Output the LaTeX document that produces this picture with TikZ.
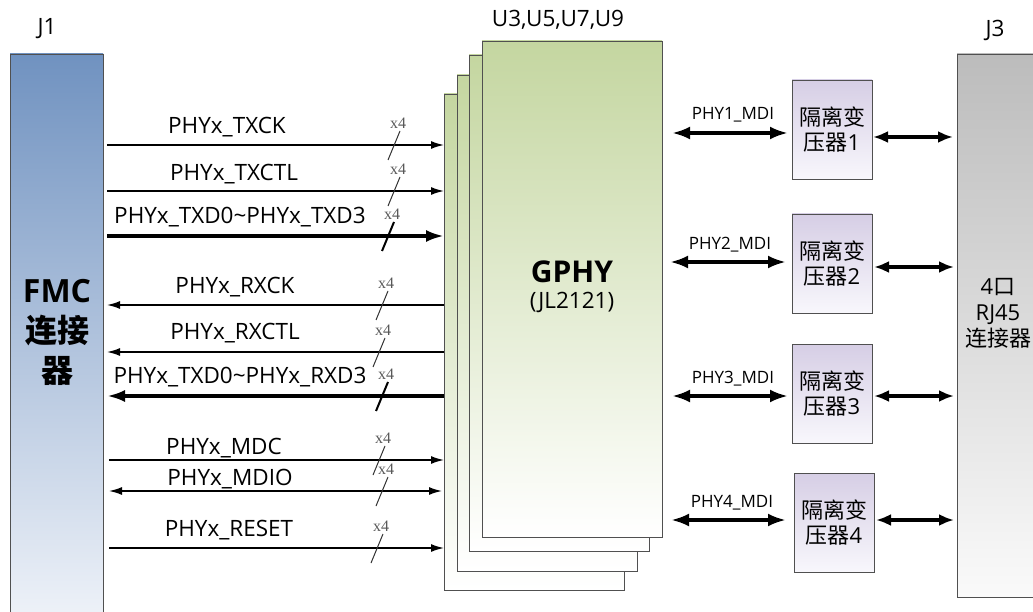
\documentclass[tikz,border=0pt]{standalone}
\usepackage{fontspec}
\setmainfont{Open Sans}
\newfontfamily\cjk{Noto Sans CJK SC}
\newfontfamily\cjkb{Noto Sans CJK SC Bold}
\newfontfamily\tms{Liberation Serif}
\usetikzlibrary{arrows.meta}
\definecolor{j1top}{RGB}{112,146,192}
\definecolor{j1bot}{RGB}{246,248,252}
\definecolor{phyg}{RGB}{196,214,160}
\definecolor{xftop}{RGB}{214,206,229}
\definecolor{xfbot}{RGB}{248,247,252}
\definecolor{j3top}{RGB}{188,188,188}
\definecolor{j3bot}{RGB}{250,250,250}
\definecolor{edge}{RGB}{80,80,80}
\tikzset{
  every node/.style={inner sep=0pt, outer sep=0pt},
  jb/.style={draw=edge, line width=0.9pt, anchor=north west},
  phy/.style={draw=edge, line width=0.9pt, anchor=north west, top color=phyg, bottom color=white, minimum width=180pt, minimum height=496pt},
  xf/.style={draw=edge, line width=0.9pt, anchor=north west, top color=xftop, bottom color=xfbot, minimum width=80pt, minimum height=99pt, align=center, font=\fontsize{22}{25}\selectfont},
  lbl/.style={font=\fontsize{22.5}{22.5}\selectfont},
  mdil/.style={font=\fontsize{17}{17}\selectfont},
  xfour/.style={font=\tms\fontsize{16}{16}\selectfont, text=black!65},
  sig/.style={line width=1.6pt, -{Latex[length=13pt,width=8pt]}},
  sigb/.style={line width=3.4pt, -{Latex[length=18pt,width=12pt]}},
  sigl/.style={line width=1.6pt, {Latex[length=13pt,width=8pt]}-},
  siglb/.style={line width=3.4pt, {Latex[length=18pt,width=12pt]}-},
  sigd/.style={line width=1.6pt, {Latex[length=13pt,width=8pt]}-{Latex[length=13pt,width=8pt]}},
  mdi/.style={line width=3.5pt, {Latex[length=18pt,width=13pt]}-{Latex[length=18pt,width=13pt]}},
  mdr/.style={line width=3.2pt, {Latex[length=15pt,width=12pt]}-{Latex[length=15pt,width=12pt]}},
  tick/.style={line width=1pt, black!80},
  tickb/.style={line width=2pt},
}
\begin{document}
\begin{tikzpicture}[x=1pt,y=-1pt]
\useasboundingbox (0,0) rectangle (1033,612);
\clip (0,0) rectangle (1033,612);

% J1 connector
\node[jb, top color=j1top, bottom color=j1bot, minimum width=93pt, minimum height=600pt] (j1) at (10,54) {};
\node[lbl] (j1t) at (47,29) {J1};
\node[font=\bfseries\fontsize{32}{40}\selectfont, align=center] (fmc) at (57,332) {FMC\\{\cjkb 连接}\\{\cjkb 器}};

% GPHY stack
\node[phy] (b1) at (444,94) {};
\node[phy] (b2) at (457,75) {};
\node[phy] (b3) at (469,55) {};
\node[phy] (b4) at (482,41) {};
\node[lbl] (ut) at (558,20) {U3,U5,U7,U9};
\node[font=\bfseries\fontsize{30}{30}\selectfont] (gphy) at (572,272) {GPHY};
\node[font=\fontsize{22.5}{22.5}\selectfont] (jl) at (572,302) {(JL2121)};

% rows
\coordinate (r1) at (0,145);
\coordinate (r2) at (0,191);
\coordinate (r3) at (0,236);
\coordinate (r4) at (0,305);
\coordinate (r5) at (0,352);
\coordinate (r6) at (0,396);
\coordinate (r7) at (0,460);
\coordinate (r8) at (0,491);
\coordinate (r9) at (0,548);

\draw[sig, shorten <=4pt] (j1.east |- r1) -- (b1.west |- r1);
\draw[sig, shorten <=4pt] (j1.east |- r2) -- (b1.west |- r2);
\draw[sigb, shorten <=4pt] (j1.east |- r3) -- (b1.west |- r3);
\draw[sigl, shorten <=4pt] (j1.east |- r4) -- (b1.west |- r4);
\draw[sigl, shorten <=4pt] (j1.east |- r5) -- (b1.west |- r5);
\draw[siglb, shorten <=4pt] (j1.east |- r6) -- (b1.west |- r6);
\draw[sig, shorten <=6pt] (j1.east |- r7) -- (b1.west |- r7);
\draw[sigd, shorten <=6pt, shorten >=2pt] (j1.east |- r8) -- (b1.west |- r8);
\draw[sig, shorten <=6pt] (j1.east |- r9) -- (b1.west |- r9);

\node[lbl] (l1) at (227,127) {PHYx\_TXCK};
\node[lbl] (l2) at (234,174) {PHYx\_TXCTL};
\node[lbl] (l3) at (240,217) {PHYx\_TXD0\textasciitilde PHYx\_TXD3};
\node[lbl] (l4) at (235,287) {PHYx\_RXCK};
\node[lbl] (l5) at (235,333) {PHYx\_RXCTL};
\node[lbl] (l6) at (240,377) {PHYx\_TXD0\textasciitilde PHYx\_RXD3};
\node[lbl] (l7) at (224,448) {PHYx\_MDC};
\node[lbl] (l8) at (230,479) {PHYx\_MDIO};
\node[lbl] (l9) at (229,530) {PHYx\_RESET};

\foreach \r/\xx/\yy/\st in {1/398/145/tick, 2/398/191/tick, 3/392/236/tickb, 4/386/305/tick, 5/383/352/tick, 6/386/396/tickb, 7/383/460/tick, 8/386/491/tick, 9/381/548/tick}{
  \node[xfour] (x\r) at (\xx,\yy-22) {x4};
  \draw[\st] ([shift={(2,8)}]x\r.center) -- ([shift={(-10,37)}]x\r.center);
}

% transformers
\node[xf] (t1) at (792,80) {{\cjk 隔离变}\\{\cjk 压器}1};
\node[xf] (t2) at (792,214) {{\cjk 隔离变}\\{\cjk 压器}2};
\node[xf] (t3) at (792,344) {{\cjk 隔离变}\\{\cjk 压器}3};
\node[xf] (t4) at (794,473) {{\cjk 隔离变}\\{\cjk 压器}4};

% J3 connector
\node[jb, top color=j3top, bottom color=j3bot, minimum width=100pt, minimum height=543pt] (j3) at (957,54) {};
\node[lbl] (j3t) at (995,30) {J3};
\node[align=center, font=\fontsize{22}{26}\selectfont] (j3x) at (998,313) {4{\cjk 口}\\RJ45\\{\cjk 连接器}};

% MDI links
\coordinate (m1) at (0,133);
\coordinate (m2) at (0,262);
\coordinate (m3) at (0,396);
\coordinate (m4) at (0,520);
\coordinate (n1) at (0,137);
\coordinate (n2) at (0,267);
\coordinate (n3) at (0,396);
\coordinate (n4) at (0,520);

\draw[mdi, shorten <=10pt, shorten >=4pt] (b4.east |- m1) -- (t1.west |- m1);
\draw[mdi, shorten <=8pt, shorten >=6pt] (b4.east |- m2) -- (t2.west |- m2);
\draw[mdi, shorten <=10pt, shorten >=4pt] (b4.east |- m3) -- (t3.west |- m3);
\draw[mdi, shorten <=9pt, shorten >=8pt] (b4.east |- m4) -- (t4.west |- m4);

\draw[mdr, shorten <=1pt, shorten >=4pt] (t1.east |- n1) -- (j3.west |- n1);
\draw[mdr, shorten <=2pt, shorten >=3pt] (t2.east |- n2) -- (j3.west |- n2);
\draw[mdr, shorten <=2pt, shorten >=3pt] (t3.east |- n3) -- (j3.west |- n3);
\draw[mdr, shorten <=2pt, shorten >=3pt] (t4.east |- n4) -- (j3.west |- n4);

\node[mdil] (ml1) at (733,115) {PHY1\_MDI};
\node[mdil] (ml2) at (730,245) {PHY2\_MDI};
\node[mdil] (ml3) at (733,379) {PHY3\_MDI};
\node[mdil] (ml4) at (732,503) {PHY4\_MDI};
\end{tikzpicture}
\end{document}
